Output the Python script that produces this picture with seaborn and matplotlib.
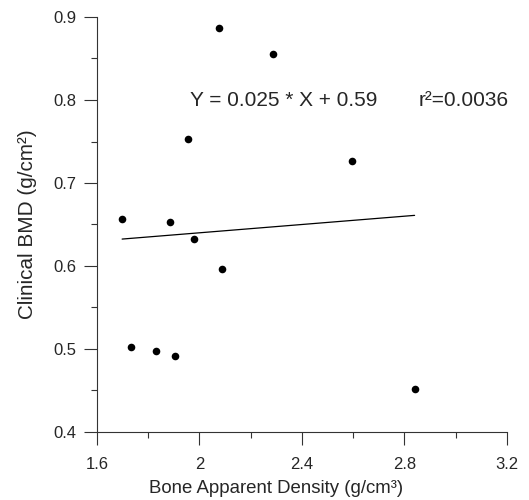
import matplotlib
matplotlib.use('Agg')
import matplotlib.pyplot as plt
import seaborn as sns
import numpy as np
import pandas as pd
from matplotlib.ticker import MultipleLocator

# data
density = [1.698, 1.885, 1.954, 1.979, 2.076, 2.286, 2.595, 1.731, 1.829, 1.906, 2.088, 2.840]
bmd = [0.657, 0.653, 0.753, 0.632, 0.887, 0.855, 0.727, 0.503, 0.498, 0.492, 0.596, 0.452]
slope, intercept = 0.025, 0.59

df = pd.DataFrame({'density': density, 'bmd': bmd})

sns.set_style('ticks')
plt.rcParams['font.family'] = ['Liberation Sans', 'DejaVu Sans']

fig = plt.figure(figsize=(5.29, 5.0), dpi=100)
ax = fig.add_axes([0.1834, 0.136, 0.7746, 0.830])

sns.scatterplot(data=df, x='density', y='bmd', ax=ax, color='black', s=30,
                edgecolor='black', linewidth=0, zorder=3)

xfit = np.array([min(density), max(density)])
sns.lineplot(x=xfit, y=slope * xfit + intercept, ax=ax, color='black', linewidth=0.9)

ax.set_xlim(1.6, 3.2)
ax.set_ylim(0.4, 0.9)
ax.xaxis.set_minor_locator(MultipleLocator(0.2))
ax.yaxis.set_minor_locator(MultipleLocator(0.05))
ax.set_xticks([1.6, 2.0, 2.4, 2.8, 3.2])
ax.set_xticklabels(['1.6', '2', '2.4', '2.8', '3.2'])
ax.set_yticks([0.4, 0.5, 0.6, 0.7, 0.8, 0.9])
ax.set_yticklabels(['0.4', '0.5', '0.6', '0.7', '0.8', '0.9'])

ax.tick_params(which='major', length=9.5, width=0.8, labelsize=12, color='#333333')
ax.tick_params(which='minor', length=4.5, width=0.8, color='#333333')
ax.tick_params(axis='x', which='major', pad=8.5)
ax.tick_params(axis='y', which='major', pad=5.5)
for side in ['left', 'bottom']:
    ax.spines[side].set_linewidth(0.8)
    ax.spines[side].set_color('#333333')
sns.despine(ax=ax)

ax.set_xlabel('Bone Apparent Density (g/cm³)', fontsize=13.4)
ax.set_ylabel('Clinical BMD (g/cm²)', fontsize=14.9)
ax.xaxis.set_label_coords(0.438, -0.116)
ax.yaxis.set_label_coords(-0.146, 0.5)

ax.text(1.963, 0.8, 'Y = 0.025 * X + 0.59', fontsize=15, va='center', ha='left')
ax.text(2.857, 0.8, 'r²=0.0036', fontsize=15, va='center', ha='left')

fig.savefig('out.png', dpi=100)
